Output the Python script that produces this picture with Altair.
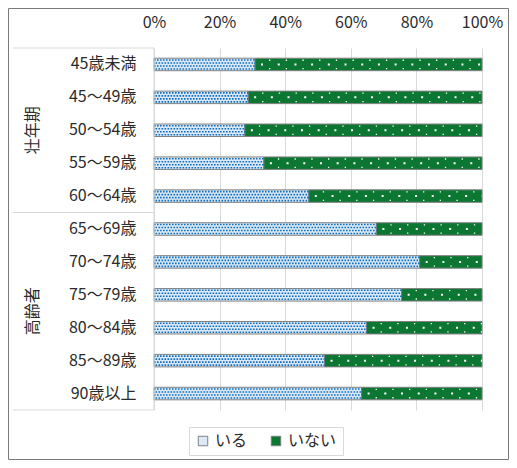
import altair as alt
import pandas as pd

categories = ["45歳未満", "45～49歳", "50～54歳", "55～59歳", "60～64歳",
              "65～69歳", "70～74歳", "75～79歳", "80～84歳", "85～89歳", "90歳以上"]
iru = [30.8, 28.7, 27.7, 33.5, 47.2, 67.8, 81.0, 75.5, 64.8, 52.0, 63.3]
series = ["いる", "いない"]
groups = ["壮年期", "高齢者"]
tick_values = [0, 20, 40, 60, 80, 100]

rows = []
for c, v in zip(categories, iru):
    rows.append({"cat": c, "series": series[0], "start": 0.0, "end": v})
    rows.append({"cat": c, "series": series[1], "start": v, "end": 100.0})
df = pd.DataFrame(rows)

FONT = "Noto Sans CJK JP"
TXT = "#2b2b2b"
GRID = "#d9d9d9"
FS = 16

yscale = alt.Scale(domain=categories, paddingInner=0.62, paddingOuter=0.31)
xscale = alt.Scale(domain=[0, 100], nice=False)

base = alt.Chart(df)

bars = base.mark_bar(stroke="#808080", strokeWidth=1).encode(
    x=alt.X("start:Q", scale=xscale, title=None,
            axis=alt.Axis(orient="top", values=tick_values, labelExpr="datum.value + '%'",
                          ticks=False, domain=False, grid=True, gridColor=GRID,
                          labelFlush=False, labelOverlap=False,
                          labelPadding=18, labelFontSize=FS, labelFont=FONT, labelColor=TXT)),
    x2="end:Q",
    y=alt.Y("cat:N", scale=yscale, sort=categories, title=None,
            axis=alt.Axis(ticks=False, domain=False, labelPadding=18, labelFontSize=FS,
                          labelFont=FONT, labelColor=TXT)),
    color=alt.Color("series:N", scale=alt.Scale(domain=series, range=["#dbe9f7", "#0b7733"]),
                    legend=alt.Legend(title=None, orient="none", direction="horizontal",
                                      legendX=35, legendY=379, strokeColor=GRID, padding=6,
                                      symbolType="square", symbolSize=90,
                                      symbolStrokeColor="#808080", symbolStrokeWidth=1,
                                      labelFontSize=FS, labelFont=FONT, labelColor=TXT,
                                      columnPadding=20)),
)

layers = [bars]

iru_df = base.transform_filter(alt.datum.series == series[0])
for off, dof in [(-4.5, 0), (-1.5, 1.5), (1.5, 0), (4.5, 1.5)]:
    layers.append(iru_df.mark_rule(yOffset=off, stroke="#0a6fc2", strokeWidth=1.6,
                                    strokeDash=[1.6, 1.4], strokeDashOffset=dof).encode(
        x=alt.X("start:Q", scale=xscale), x2="end:Q",
        y=alt.Y("cat:N", scale=yscale, sort=categories)))

nai_df = base.transform_filter(alt.datum.series == series[1])
layers.append(nai_df.mark_rule(yOffset=0, stroke="white", strokeWidth=2,
                               strokeDash=[2, 14.7], strokeDashOffset=-6).encode(
    x=alt.X("start:Q", scale=xscale), x2="end:Q",
    y=alt.Y("cat:N", scale=yscale, sort=categories)))
for off in [-4.2, 4.2]:
    layers.append(nai_df.mark_rule(yOffset=off, stroke="white", strokeWidth=1.3,
                                   strokeDash=[1.3, 15.4], strokeDashOffset=-14).encode(
        x=alt.X("start:Q", scale=xscale), x2="end:Q",
        y=alt.Y("cat:N", scale=yscale, sort=categories)))

deco = alt.Chart(pd.DataFrame({"k": [0]}))
for yv in [0, 164.5, 362]:
    layers.append(deco.mark_rule(color=GRID, strokeWidth=1).encode(
        x=alt.value(-141), x2=alt.value(0), y=alt.value(yv)))
layers.append(deco.mark_rule(color=GRID, strokeWidth=1).encode(
    x=alt.value(0), y=alt.value(0), y2=alt.value(362)))

for g, yv in zip(groups, [82.3, 263.2]):
    layers.append(alt.Chart(pd.DataFrame({"g": [g]})).mark_text(
        angle=270, font=FONT, fontSize=FS, color=TXT, align="center", baseline="middle").encode(
        text="g:N", x=alt.value(-121), y=alt.value(yv)))

layers.append(deco.mark_rect(fill="white", fillOpacity=0, stroke="#7a7a7a", strokeWidth=1).encode(
    x=alt.value(-145.5), x2=alt.value(354.5), y=alt.value(-39.5), y2=alt.value(411.5)))

chart = alt.layer(*layers).properties(
    width=328, height=362,
    autosize="none",
    padding={"left": 146, "top": 40, "right": 27, "bottom": 50},
).configure_view(stroke=None)

chart.save("out.html", embed_options={"renderer": "svg", "actions": False})
